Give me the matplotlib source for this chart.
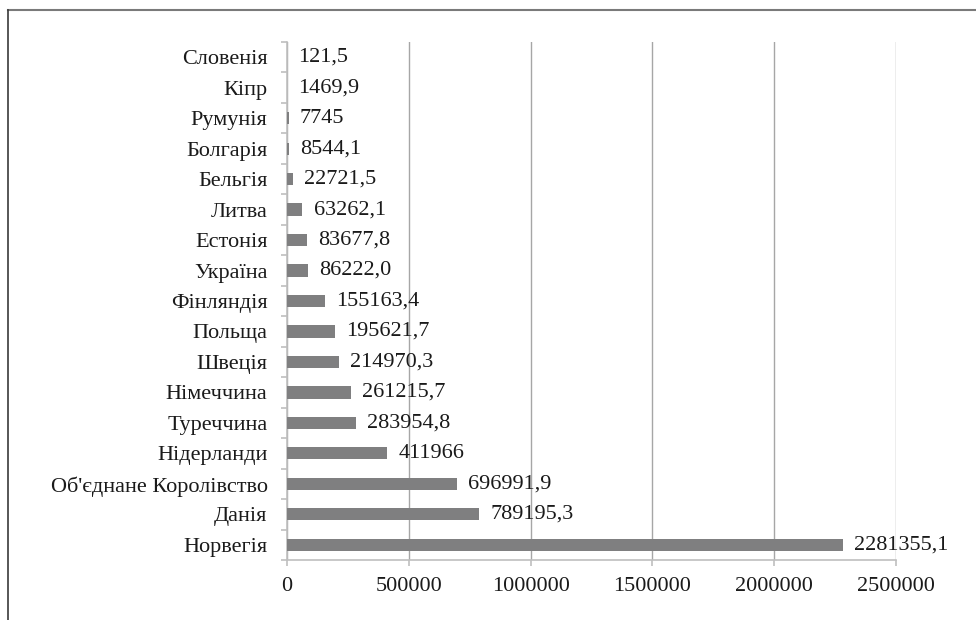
import matplotlib.pyplot as plt
from matplotlib.lines import Line2D

plt.rcParams['font.family'] = ['Liberation Serif', 'DejaVu Serif']

# Data (bottom to top)
countries = ['Норвегія', 'Данія', "Об'єднане Королівство", 'Нідерланди', 'Туреччина',
             'Німеччина', 'Швеція', 'Польща', 'Фінляндія', 'Україна', 'Естонія',
             'Литва', 'Бельгія', 'Болгарія', 'Румунія', 'Кіпр', 'Словенія']
values = [2281355.1, 789195.3, 696991.9, 411966, 283954.8, 261215.7, 214970.3,
          195621.7, 155163.4, 86222.0, 83677.8, 63262.1, 22721.5, 8544.1, 7745,
          1469.9, 121.5]
value_labels = ['2281355,1', '789195,3', '696991,9', '411966', '283954,8', '261215,7',
                '214970,3', '195621,7', '155163,4', '86222,0', '83677,8', '63262,1',
                '22721,5', '8544,1', '7745', '1469,9', '121,5']
xticks = [0, 500000, 1000000, 1500000, 2000000, 2500000]

fig = plt.figure(figsize=(9.76, 6.2), dpi=100)
ax = fig.add_axes([287 / 976, 1 - 560 / 620, (896 - 287) / 976, (560 - 42) / 620])

pos = list(range(len(countries)))
ax.barh(pos, values, height=0.4, color='#7f7f80', zorder=3)
for p, v, lab in zip(pos, values, value_labels):
    ax.annotate(lab, (v, p), xytext=(8, 0), textcoords='offset points',
                va='center', ha='left', fontsize=16, color='#1a1a1a', zorder=4)

ax.set_xlim(0, 2500000)
ax.set_ylim(-0.5, len(countries) - 0.5)
ax.set_xticks(xticks)
ax.set_xticklabels([str(t) for t in xticks])
ax.set_yticks(pos)
ax.set_yticklabels(countries)
ax.set_yticks([p - 0.5 for p in pos] + [len(countries) - 0.5], minor=True)

ax.grid(axis='x', color='#a6a6a6', linewidth=1.0, zorder=0)
for s in ['top', 'right']:
    ax.spines[s].set_visible(False)
for s in ['left', 'bottom']:
    ax.spines[s].set_color('#bfbfbf')
    ax.spines[s].set_linewidth(1.2)

ax.tick_params(axis='y', which='major', length=0, pad=14, labelsize=16, labelcolor='#1a1a1a')
ax.tick_params(axis='y', which='minor', length=4.5, color='#bfbfbf', width=1.2)
ax.tick_params(axis='x', length=4.5, color='#bfbfbf', width=1.2, pad=8,
               labelsize=16, labelcolor='#1a1a1a')

# page border (top and left only)
fig.add_artist(Line2D([8 / 976, 1.0], [1 - 10 / 620, 1 - 10 / 620],
                      transform=fig.transFigure, color='#7a7a7a', linewidth=1.5))
fig.add_artist(Line2D([8 / 976, 8 / 976], [0.0, 1 - 10 / 620],
                      transform=fig.transFigure, color='#3a3a3a', linewidth=1.2))

plt.savefig('out.png', dpi=100)
